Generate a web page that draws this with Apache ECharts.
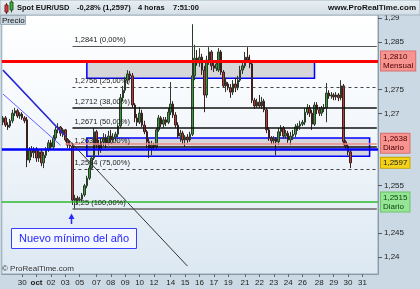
<!DOCTYPE html>
<html><head><meta charset="utf-8">
<script src="https://cdn.jsdelivr.net/npm/echarts@6/dist/echarts.min.js"></script>
<style>html,body{margin:0;padding:0;background:#cad9e3}#c{width:420px;height:289px}</style>
</head><body><div id="c"></div>
<script>
// ---- data ----
const dayTickLabels = ['','','','30','oct','02','03','05','','07','08','09','10','12','','14','15','16','17','19','','21','22','23','24','26','','28','29','30','31',''];
const candlesPerDay = [1,1,6,6,6,6,6,1,6,6,6,6,6,1,6,6,6,6,6,1,6,6,6,6,6,1,6,6,6,6,6,1];
// [open, close, low, high], 4-hour candles
const week0 = [
[1.2682,1.2691,1.2676,1.2695],[1.2691,1.2676,1.2672,1.2695],[1.2676,1.2672,1.2666,1.2682],[1.2674,1.2685,1.2670,1.2689],
[1.2685,1.2701,1.2680,1.2708],[1.2701,1.2706,1.2695,1.2712],[1.2706,1.2695,1.2691,1.2710],[1.2695,1.2699,1.2689,1.2703],
[1.2699,1.2691,1.2687,1.2703],[1.2691,1.2685,1.2680,1.2695],[1.2687,1.2603,1.2588,1.2693],[1.2603,1.2624,1.2597,1.2630],
[1.2624,1.2618,1.2609,1.2632],[1.2618,1.2626,1.2607,1.2630],[1.2626,1.2607,1.2599,1.2630],[1.2607,1.2620,1.2599,1.2626],
[1.2620,1.2597,1.2590,1.2624],[1.2597,1.2613,1.2586,1.2620],[1.2613,1.2624,1.2607,1.2630],[1.2624,1.2639,1.2620,1.2645],
[1.2639,1.2630,1.2624,1.2645],[1.2630,1.2649,1.2624,1.2655],[1.2649,1.2666,1.2645,1.2672],[1.2666,1.2672,1.2659,1.2680],
[1.2672,1.2659,1.2653,1.2674],[1.2659,1.2666,1.2651,1.2670],[1.2666,1.2645,1.2641,1.2668],[1.2645,1.2634,1.2628,1.2649],
[1.2634,1.2632,1.2626,1.2643],[1.2632,1.2519,1.2509,1.2639],[1.2519,1.2523,1.2500,1.2530],[1.2523,1.2519,1.2511,1.2528]];
const week1 = [
[1.2519,1.2521,1.2515,1.2526],[1.2521,1.2530,1.2515,1.2534],[1.2530,1.2549,1.2526,1.2553],[1.2549,1.2565,1.2544,1.2570],
[1.2565,1.2586,1.2561,1.2592],[1.2586,1.2607,1.2582,1.2611],[1.2607,1.2662,1.2603,1.2670],[1.2662,1.2634,1.2628,1.2666],
[1.2634,1.2624,1.2613,1.2645],[1.2624,1.2641,1.2618,1.2649],[1.2641,1.2649,1.2632,1.2659],[1.2649,1.2639,1.2628,1.2657],
[1.2639,1.2653,1.2634,1.2664],[1.2653,1.2645,1.2639,1.2666],[1.2645,1.2651,1.2639,1.2659],[1.2651,1.2657,1.2643,1.2662],
[1.2657,1.2674,1.2651,1.2678],[1.2674,1.2733,1.2670,1.2741],[1.2733,1.2749,1.2726,1.2758],[1.2749,1.2770,1.2743,1.2777],
[1.2770,1.2783,1.2762,1.2791],[1.2783,1.2779,1.2770,1.2789],[1.2779,1.2718,1.2712,1.2785],[1.2718,1.2691,1.2682,1.2722],
[1.2691,1.2682,1.2674,1.2699],[1.2682,1.2701,1.2678,1.2714],[1.2701,1.2676,1.2672,1.2708],[1.2676,1.2662,1.2657,1.2685],
[1.2662,1.2641,1.2628,1.2666],[1.2641,1.2628,1.2607,1.2649],[1.2628,1.2634,1.2613,1.2643]];
const week2 = [
[1.2634,1.2630,1.2624,1.2639],[1.2630,1.2666,1.2626,1.2670],[1.2666,1.2691,1.2662,1.2697],[1.2691,1.2678,1.2672,1.2695],
[1.2678,1.2687,1.2670,1.2693],[1.2687,1.2682,1.2674,1.2693],[1.2682,1.2703,1.2678,1.2712],[1.2703,1.2720,1.2697,1.2766],
[1.2720,1.2697,1.2691,1.2726],[1.2697,1.2676,1.2670,1.2703],[1.2676,1.2653,1.2649,1.2682],[1.2653,1.2659,1.2641,1.2666],
[1.2659,1.2645,1.2636,1.2664],[1.2645,1.2651,1.2630,1.2655],[1.2651,1.2645,1.2639,1.2657],[1.2645,1.2657,1.2641,1.2662],
[1.2657,1.2779,1.2653,1.2887],[1.2779,1.2816,1.2770,1.2844],[1.2816,1.2806,1.2800,1.2833],[1.2806,1.2818,1.2798,1.2837],
[1.2818,1.2791,1.2781,1.2825],[1.2791,1.2739,1.2703,1.2800],[1.2739,1.2812,1.2733,1.2821],[1.2812,1.2829,1.2802,1.2839],
[1.2829,1.2800,1.2791,1.2833],[1.2800,1.2795,1.2787,1.2806],[1.2795,1.2804,1.2789,1.2810],[1.2791,1.2829,1.2787,1.2837],
[1.2829,1.2787,1.2781,1.2833],[1.2787,1.2758,1.2754,1.2791],[1.2758,1.2766,1.2745,1.2775]];
const week3 = [
[1.2762,1.2754,1.2749,1.2766],[1.2754,1.2745,1.2733,1.2762],[1.2745,1.2762,1.2739,1.2770],[1.2762,1.2754,1.2745,1.2775],
[1.2754,1.2770,1.2749,1.2779],[1.2770,1.2791,1.2766,1.2800],[1.2791,1.2800,1.2783,1.2808],[1.2800,1.2818,1.2795,1.2829],
[1.2818,1.2812,1.2806,1.2839],[1.2812,1.2804,1.2795,1.2823],[1.2804,1.2728,1.2722,1.2812],[1.2728,1.2716,1.2710,1.2733],
[1.2716,1.2724,1.2712,1.2731],[1.2724,1.2716,1.2712,1.2739],[1.2716,1.2726,1.2710,1.2735],[1.2726,1.2708,1.2703,1.2731],
[1.2708,1.2666,1.2659,1.2712],[1.2666,1.2649,1.2643,1.2672],[1.2649,1.2643,1.2636,1.2653],[1.2643,1.2647,1.2636,1.2653],
[1.2647,1.2641,1.2613,1.2651],[1.2641,1.2662,1.2634,1.2670],[1.2662,1.2670,1.2653,1.2676],[1.2670,1.2653,1.2649,1.2674],
[1.2653,1.2659,1.2647,1.2666],[1.2659,1.2645,1.2639,1.2664],[1.2645,1.2653,1.2634,1.2662],[1.2653,1.2657,1.2645,1.2666],
[1.2657,1.2672,1.2651,1.2678],[1.2672,1.2674,1.2664,1.2680],[1.2674,1.2678,1.2666,1.2685]];
const week4 = [
[1.2678,1.2682,1.2674,1.2687],[1.2682,1.2703,1.2676,1.2712],[1.2703,1.2712,1.2697,1.2720],[1.2712,1.2701,1.2693,1.2718],
[1.2701,1.2678,1.2666,1.2708],[1.2678,1.2718,1.2674,1.2724],[1.2718,1.2708,1.2699,1.2724],[1.2708,1.2701,1.2695,1.2714],
[1.2701,1.2710,1.2695,1.2716],[1.2710,1.2712,1.2703,1.2720],[1.2712,1.2743,1.2682,1.2764],[1.2743,1.2737,1.2731,1.2749],
[1.2737,1.2739,1.2731,1.2745],[1.2739,1.2735,1.2728,1.2743],[1.2735,1.2739,1.2728,1.2745],[1.2739,1.2733,1.2726,1.2743],
[1.2733,1.2758,1.2728,1.2770],[1.2758,1.2641,1.2634,1.2762],[1.2641,1.2632,1.2626,1.2645],[1.2632,1.2620,1.2613,1.2636],
[1.2620,1.2597,1.2586,1.2624]];

const yTickValues = [1.24,1.245,1.255,1.27,1.275,1.285,1.29];
const fibLevels = [1.2841,1.2756,1.2712,1.2671,1.2630,1.2584,1.25];
const fibTexts = ['1,2841 (0,00%)','1,2756 (25,00%)','1,2712 (38,00%)','1,2671 (50,00%)','1,2630 (62,00%)','1,2584 (75,00%)','1,25 (100,00%)'];
const monthlyLevel = 1.2810, dailyHigh = 1.2638, dailyLow = 1.2515, lastPrice = 1.2597, blueLevel = 1.2625;
const zoneTop = [1.2810, 1.2774];
const zoneBottom = [1.2649, 1.2611];
const trendA = [1.2791, 1.2381];   // start / end price
const trendB = [1.2741, 1.2634];

// ---- build ----
const categories = [], labelMap = {};
dayTickLabels.forEach((d, i) => {
  for (let k = 0; k < candlesPerDay[i]; k++) {
    const name = i + '_' + k;
    categories.push(name);
    labelMap[name] = k === 0 ? d : '';
  }
});
const candles = [].concat(week0, week1, week2, week3, week4);
const lastIdx = categories.length - 1;
const fibStart = 29, zoneStart = 35;
const fmt = v => String(v).replace('.', ',');
const FONT = '"Liberation Sans", Arial, sans-serif';

const boxLabel = (text, bg, border, color) => ({
  show: true, position: 'end', distance: 3, formatter: text,
  backgroundColor: bg, borderColor: border, borderWidth: 1, padding: [1, 2, 0, 2],
  color: color, fontSize: 8, lineHeight: 9, fontFamily: FONT
});

const fibStyles = [
  {color:'#555', width:1, type:'solid'},
  {color:'#444', width:1, type:[3,3]},
  {color:'#111', width:1.5, type:'solid'},
  {color:'#111', width:1.5, type:'solid'},
  {color:'#111', width:1.5, type:'solid'},
  {color:'#444', width:1, type:[3,3]},
  {color:'#666', width:1.5, type:'solid'}
];

const lines = [];
fibLevels.forEach((v, i) => {
  lines.push([
    {coord:[fibStart, v], lineStyle: fibStyles[i],
     label:{show:true, position:'insideStartTop', distance:2, formatter:fibTexts[i], fontSize:7.5, color:'#222', fontFamily:FONT}},
    {coord:[lastIdx, v]}
  ]);
});
lines.push([{coord:[26, dailyHigh], lineStyle:{color:'#f08c8c', width:1.5, type:'solid'}, label:{show:false}}, {coord:[lastIdx, dailyHigh]}]);
lines.push([{coord:[0, trendA[0]], lineStyle:{color:'#333', width:1, type:'solid'}, label:{show:false}}, {coord:[77, trendA[1]]}]);
lines.push([{coord:[0, trendA[0]], lineStyle:{color:'#2a2ad8', width:1.5, type:'solid'}, label:{show:false}}, {coord:[26, 1.2653]}]);
lines.push([{coord:[0, trendB[0]], lineStyle:{color:'#6060ff', width:1, type:'solid'}, label:{show:false}}, {coord:[24, trendB[1]]}]);
lines.push({yAxis: blueLevel, lineStyle:{color:'#0000ff', width:2.5, type:'solid'}, label:{show:false}});
lines.push({yAxis: dailyLow, lineStyle:{color:'#2eb82e', width:1.5, type:'solid'}, label: boxLabel('1,2515\nDiario', '#96e496', '#6ac46a', '#0a4a0a')});
lines.push({yAxis: monthlyLevel, lineStyle:{color:'#ff0000', width:3, type:'solid'}, label: boxLabel('1,2810\nMensual', '#f79490', '#d77070', '#4a0000')});
lines.push({yAxis: dailyHigh, lineStyle:{color:'rgba(0,0,0,0)', width:0}, label: boxLabel('1,2638\nDiario', '#f79490', '#d77070', '#4a0000')});
lines.push({yAxis: lastPrice, lineStyle:{color:'rgba(0,0,0,0)', width:0}, label: boxLabel('1,2597', '#f5d21a', '#c9a400', '#222')});

const chart = echarts.init(document.getElementById('c'), null, {renderer:'canvas'});
chart.setOption({
  animation: false,
  backgroundColor: '#cad9e3',
  textStyle: {fontFamily: FONT},
  grid: {left: -1.5, right: 42, top: 15, bottom: 15, show: true,
    backgroundColor: new echarts.graphic.LinearGradient(0,0,0,1,[{offset:0,color:'#ffffff'},{offset:0.35,color:'#f6f9fc'},{offset:1,color:'#dce8f2'}]),
    borderColor: '#95a7b3', borderWidth: 1},
  xAxis: {
    type: 'category', data: categories, boundaryGap: true,
    axisLine: {lineStyle: {color: '#8a9ba7'}},
    axisTick: {show: true, alignWithLabel: true, length: 3, lineStyle:{color:'#667'},
      interval: (idx, val) => labelMap[val] !== ''},
    axisLabel: {interval: 0, margin: 5, fontSize: 8, color: '#222', fontFamily: FONT,
      formatter: v => labelMap[v] === 'oct' ? '{b|oct}' : labelMap[v],
      rich: {b: {fontWeight: 'bold', fontSize: 8, color: '#222', fontFamily: FONT}}},
    splitLine: {show: false}
  },
  yAxis: {
    type: 'value', position: 'right', scale: true, min: 1.23645, max: 1.29063,
    axisLine: {show: true, lineStyle: {color: '#8a9ba7'}},
    axisTick: {show: true, length: 4, customValues: yTickValues, lineStyle:{color:'#556'}},
    axisLabel: {customValues: yTickValues, margin: 6, fontSize: 8, color: '#222', fontFamily: FONT, formatter: v => fmt(v)},
    splitLine: {show: false}
  },
  series: [
    {type: 'line', data: [], z: 1, silent: true,
     markArea: {silent: true, data: [
       [{coord:[zoneStart, zoneTop[0]], itemStyle:{color:'#d6d6d8', borderColor:'#0000ff', borderWidth:1.5}}, {coord:[130, zoneTop[1]]}],
       [{coord:[zoneStart, zoneBottom[0]], itemStyle:{color:'rgba(196,196,204,0.65)', borderColor:'#0000ff', borderWidth:1.5}}, {coord:[153, zoneBottom[1]]}]
     ]}},
    {type: 'candlestick', data: candles, z: 3, barWidth: 2,
     itemStyle: {color:'#3a9a3a', color0:'#b23c3c', borderColor:'#2b3b2b', borderColor0:'#3b2020', borderWidth: 1}},
    {type: 'line', data: [], z: 5, silent: true,
     markLine: {silent: true, symbol: ['none','none'], precision: 4, data: lines}}
  ],
  graphic: [
    {type:'rect', shape:{x:0,y:0,width:420,height:15}, style:{fill:new echarts.graphic.LinearGradient(0,0,0,1,[{offset:0,color:'#e9f0f4'},{offset:1,color:'#d3dee6'}]), stroke:'#a3b3be', lineWidth:1}, z:20},
    {type:'rect', shape:{x:5,y:5,width:3,height:7}, style:{fill:'#d84040', stroke:'#702020', lineWidth:1}, z:21},
    {type:'line', shape:{x1:6.5,y1:3,x2:6.5,y2:14}, style:{stroke:'#702020', lineWidth:1}, z:20},
    {type:'rect', shape:{x:10,y:2,width:3,height:8}, style:{fill:'#3cb43c', stroke:'#1e5a1e', lineWidth:1}, z:21},
    {type:'line', shape:{x1:11.5,y1:0.5,x2:11.5,y2:12.5}, style:{stroke:'#1e5a1e', lineWidth:1}, z:20},
    {type:'text', x:17, y:7.5, style:{text:'Spot EUR/USD', font:'bold 7.5px '+FONT, fill:'#111', textVerticalAlign:'middle'}, z:21},
    {type:'text', x:77, y:7.5, style:{text:'-0,28% (1,2597)', font:'bold 7.5px '+FONT, fill:'#111', textVerticalAlign:'middle'}, z:21},
    {type:'text', x:138, y:7.5, style:{text:'4 horas', font:'bold 7.5px '+FONT, fill:'#111', textVerticalAlign:'middle'}, z:21},
    {type:'text', x:173, y:7.5, style:{text:'7:51:00', font:'bold 7.5px '+FONT, fill:'#111', textVerticalAlign:'middle'}, z:21},
    {type:'text', x:416, y:7.5, style:{text:'www.ProRealTime.com', font:'bold 8px '+FONT, fill:'#111', textAlign:'right', textVerticalAlign:'middle'}, z:21},
    {type:'rect', shape:{x:0.5,y:15.5,width:25,height:9}, style:{fill:'#c9d6df', stroke:'#9fb0bb', lineWidth:1}, z:21},
    {type:'text', x:2, y:20.5, style:{text:'Precio', font:'8px '+FONT, fill:'#111', textVerticalAlign:'middle'}, z:22},
    {type:'rect', shape:{x:11.5,y:228.5,width:125,height:20}, style:{fill:'#f5f8ff', stroke:'#3c3cff', lineWidth:1}, z:21},
    {type:'text', x:74, y:238.5, style:{text:'Nuevo mínimo del año', font:'11px '+FONT, fill:'#2626ff', textAlign:'center', textVerticalAlign:'middle'}, z:22},
    {type:'line', shape:{x1:71.5,y1:218,x2:71.5,y2:224}, style:{stroke:'#2a2aff', lineWidth:1.5}, z:21},
    {type:'polygon', shape:{points:[[71.5,213.5],[68.5,219],[74.5,219]]}, style:{fill:'#2a2aff'}, z:21},
    {type:'text', x:2, y:269, style:{text:'© ProRealTime.com', font:'8px '+FONT, fill:'#333', textVerticalAlign:'middle'}, z:21}
  ]
});
</script></body></html>
